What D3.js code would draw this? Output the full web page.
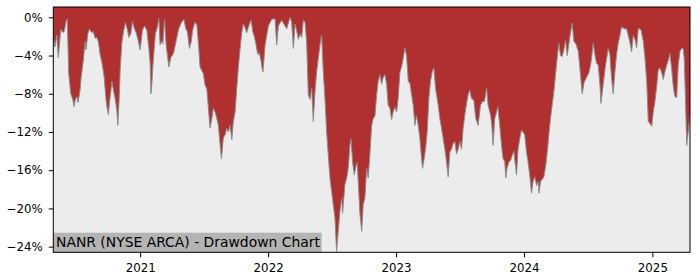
<!DOCTYPE html>
<html>
<head>
<meta charset="utf-8">
<script src="https://cdn.jsdelivr.net/npm/d3@7"></script>
<style>
  html, body { margin: 0; padding: 0; background: #ffffff; }
  svg { display: block; }
  text { font-family: "DejaVu Sans", sans-serif; }
</style>
</head>
<body>
<svg id="chart" width="700" height="280"></svg>
<script>
// Dates as decimal years, drawdown values in percent
const decimalYears = [
  2020.323,2020.336,2020.350,2020.362,2020.381,2020.397,2020.407,2020.425,2020.432,2020.443,
  2020.459,2020.467,2020.475,2020.485,2020.495,2020.506,2020.516,2020.532,2020.539,2020.557,
  2020.571,2020.578,2020.592,2020.604,2020.623,2020.635,2020.649,2020.662,2020.674,2020.688,
  2020.703,2020.719,2020.735,2020.745,2020.753,2020.760,2020.771,2020.779,2020.787,2020.797,
  2020.805,2020.818,2020.826,2020.836,2020.844,2020.857,2020.870,2020.885,2020.899,2020.912,
  2020.927,2020.940,2020.956,2020.971,2020.984,2021.000,2021.018,2021.034,2021.052,2021.068,
  2021.078,2021.084,2021.091,2021.099,2021.109,2021.119,2021.135,2021.146,2021.156,2021.166,
  2021.177,2021.190,2021.203,2021.224,2021.240,2021.260,2021.279,2021.299,2021.320,2021.341,
  2021.357,2021.369,2021.385,2021.398,2021.411,2021.429,2021.443,2021.455,2021.468,2021.494,
  2021.507,2021.521,2021.533,2021.546,2021.560,2021.572,2021.585,2021.599,2021.611,2021.625,
  2021.635,2021.650,2021.664,2021.677,2021.689,2021.703,2021.716,2021.728,2021.742,2021.755,
  2021.767,2021.781,2021.794,2021.806,2021.820,2021.833,2021.851,2021.867,2021.880,2021.892,
  2021.906,2021.919,2021.931,2021.945,2021.955,2021.960,2021.976,2022.002,2022.028,2022.054,
  2022.067,2022.080,2022.106,2022.132,2022.145,2022.171,2022.184,2022.197,2022.210,2022.223,
  2022.236,2022.249,2022.262,2022.275,2022.288,2022.301,2022.314,2022.327,2022.340,2022.353,
  2022.366,2022.379,2022.392,2022.405,2022.418,2022.431,2022.444,2022.457,2022.470,2022.483,
  2022.496,2022.509,2022.522,2022.535,2022.548,2022.561,2022.575,2022.582,2022.600,2022.614,
  2022.626,2022.639,2022.647,2022.660,2022.673,2022.686,2022.696,2022.707,2022.717,2022.731,
  2022.743,2022.756,2022.770,2022.782,2022.795,2022.809,2022.821,2022.835,2022.848,2022.860,
  2022.874,2022.887,2022.899,2022.913,2022.926,2022.938,2022.952,2022.965,2022.977,2022.991,
  2023.004,2023.016,2023.030,2023.043,2023.055,2023.069,2023.082,2023.095,2023.108,2023.121,
  2023.134,2023.147,2023.160,2023.173,2023.186,2023.199,2023.207,2023.219,2023.230,2023.243,
  2023.256,2023.269,2023.282,2023.295,2023.308,2023.316,2023.329,2023.342,2023.355,2023.368,
  2023.381,2023.394,2023.407,2023.420,2023.433,2023.446,2023.459,2023.472,2023.485,2023.498,
  2023.511,2023.524,2023.537,2023.550,2023.563,2023.576,2023.589,2023.607,2023.623,2023.641,
  2023.660,2023.675,2023.691,2023.707,2023.719,2023.738,2023.748,2023.758,2023.771,2023.785,
  2023.795,2023.810,2023.824,2023.836,2023.849,2023.857,2023.867,2023.883,2023.894,2023.906,
  2023.920,2023.933,2023.941,2023.953,2023.966,2023.980,2023.992,2024.005,2024.019,2024.031,
  2024.044,2024.058,2024.070,2024.084,2024.097,2024.109,2024.117,2024.128,2024.144,2024.154,
  2024.169,2024.183,2024.195,2024.206,2024.219,2024.232,2024.245,2024.258,2024.271,2024.284,
  2024.297,2024.310,2024.323,2024.336,2024.349,2024.362,2024.375,2024.388,2024.404,2024.422,
  2024.435,2024.453,2024.468,2024.487,2024.505,2024.521,2024.539,2024.552,2024.565,2024.578,
  2024.591,2024.599,2024.617,2024.636,2024.656,2024.669,2024.682,2024.695,2024.708,2024.721,
  2024.734,2024.747,2024.760,2024.781,2024.799,2024.812,2024.825,2024.838,2024.851,2024.864,
  2024.877,2024.890,2024.911,2024.929,2024.942,2024.956,2024.968,2024.981,2024.995,2025.007,
  2025.020,2025.034,2025.046,2025.059,2025.073,2025.085,2025.098,2025.112,2025.124,2025.137,
  2025.151,2025.163,2025.176,2025.190,2025.202,2025.215,2025.229,2025.241,2025.249,2025.260,
  2025.268,2025.280,2025.294
];
const drawdownPct = [
  -2.2,-3.1,-1.85,-4.2,-1.25,-1.6,-1.5,-0.3,-0.2,-5.9,
  -8.0,-8.3,-8.6,-9.35,-8.6,-8.3,-8.9,-7.6,-6.4,-4.5,
  -2.55,-3.4,-1.7,-1.25,-1.6,-1.5,-2.2,-2.1,-2.55,-3.9,
  -4.8,-6.2,-8.8,-9.7,-10.2,-9.0,-7.8,-6.7,-7.3,-8.0,
  -8.5,-9.7,-11.3,-8.6,-5.5,-2.7,-1.5,-0.56,-1.2,-2.1,
  -1.7,-0.46,-1.2,-1.7,-2.4,-3.4,-1.33,-0.9,-1.33,-3.25,
  -4.8,-8.0,-7.0,-5.2,-3.4,-1.7,-1.0,-0.1,-2.9,-2.5,
  -2.8,-0.2,-2.9,-5.2,-4.2,-3.8,-2.6,-1.3,-0.6,-0.2,
  -1.2,-1.5,-3.25,-2.6,-1.3,-0.5,-0.8,-2.7,-5.2,-5.9,
  -7.1,-7.5,-9.5,-11.6,-10.6,-9.5,-9.9,-10.6,-11.3,-13.4,
  -14.8,-12.6,-12.3,-11.6,-12.0,-11.3,-12.8,-10.9,-9.9,-7.4,
  -5.3,-3.25,-1.6,-0.7,-1.1,-1.6,-0.8,-0.3,-1.5,-2.0,
  -2.9,-3.9,-3.7,-4.6,-5.5,-5.7,-2.9,-0.9,-0.2,-0.15,
  -2.9,-0.9,-0.3,-0.9,-1.2,0.0,-0.5,-3.25,-0.7,-1.4,
  -2.3,-1.75,-2.1,-0.3,-0.5,-2.6,-8.1,-8.6,-7.4,-10.9,
  -7.8,-5.7,-4.3,-2.9,-1.85,-5.7,-8.5,-12.0,-14.4,-16.8,
  -18.2,-19.6,-21.0,-24.5,-22.4,-20.3,-18.9,-20.5,-17.5,-16.8,
  -15.8,-13.4,-12.7,-15.1,-16.5,-15.6,-15.2,-17.9,-20.5,-22.4,
  -19.6,-18.9,-15.8,-16.8,-14.4,-11.3,-10.6,-10.3,-8.1,-6.7,
  -6.0,-7.0,-6.3,-6.0,-7.0,-9.2,-9.5,-10.7,-9.9,-9.4,
  -9.9,-8.5,-5.7,-5.2,-4.3,-3.2,-4.0,-6.7,-6.9,-8.1,
  -9.2,-11.3,-10.3,-11.3,-12.7,-14.8,-15.8,-14.8,-13.8,-12.0,
  -8.5,-6.7,-5.7,-5.3,-7.4,-8.1,-9.2,-10.6,-11.6,-12.7,
  -13.8,-15.1,-16.7,-14.1,-13.8,-13.2,-13.0,-14.3,-13.8,-13.0,
  -13.8,-11.6,-10.2,-9.1,-8.1,-7.6,-8.5,-8.65,-10.6,-11.3,
  -9.2,-8.8,-8.8,-7.4,-9.2,-10.2,-11.3,-13.4,-10.6,-9.9,
  -9.35,-11.3,-13.4,-14.8,-15.1,-16.8,-15.8,-15.1,-15.0,-14.5,
  -14.0,-15.6,-16.5,-13.8,-12.7,-11.8,-12.0,-12.3,-14.1,-15.1,
  -16.5,-18.4,-17.2,-16.7,-17.6,-17.2,-18.4,-17.2,-16.9,-16.7,
  -15.5,-13.8,-12.0,-10.6,-9.2,-7.8,-6.0,-4.3,-2.7,-4.0,
  -4.1,-3.4,-2.4,-4.0,-2.8,-1.6,-0.6,-2.5,-2.8,-3.5,
  -5.3,-8.0,-6.8,-6.3,-5.8,-4.8,-2.7,-3.9,-4.8,-5.0,
  -7.0,-9.0,-7.0,-4.9,-3.25,-3.9,-6.4,-8.0,-5.7,-3.9,
  -2.7,-1.9,-1.0,-1.2,-1.2,-1.9,-2.6,-3.6,-1.9,-2.3,
  -3.2,-1.15,-1.3,-2.5,-4.2,-6.7,-10.9,-11.1,-11.4,-9.9,
  -8.8,-7.2,-5.5,-5.3,-5.8,-6.5,-5.7,-5.0,-4.5,-3.8,
  -5.4,-7.2,-8.3,-8.4,-5.0,-3.6,-3.2,-3.3,-4.3,-9.2,
  -13.4,-12.0,-10.2
];
const xTickYears = [2021, 2022, 2023, 2024, 2025];
const yTicks = [0, -4, -8, -12, -16, -20, -24];
const yDomain = [-24.59, 1.08];
const title = "NANR (NYSE ARCA) - Drawdown Chart";

function decToDate(t) {
  const y = Math.floor(t);
  const start = Date.UTC(y, 0, 1), end = Date.UTC(y + 1, 0, 1);
  return new Date(start + (t - y) * (end - start));
}
const data = decimalYears.map((t, i) => ({ date: decToDate(t), v: drawdownPct[i] }));

const L = 53.3, R = 690, T = 7, B = 252.3;
const svg = d3.select("#chart");

const x = d3.scaleUtc().domain(d3.extent(data, d => d.date)).range([L, R]);
const y = d3.scaleLinear().domain(yDomain).range([B, T]);

svg.append("defs").append("clipPath").attr("id", "clip")
  .append("rect").attr("x", L).attr("y", T).attr("width", R - L).attr("height", B - T);

svg.append("rect").attr("x", L).attr("y", T).attr("width", R - L).attr("height", B - T)
  .attr("fill", "#ececec");

const g = svg.append("g").attr("clip-path", "url(#clip)");
g.append("path").datum(data)
  .attr("fill", "#b03030")
  .attr("d", d3.area().x(d => x(d.date)).y0(y(yDomain[1])).y1(d => y(d.v)));
g.append("path").datum(data)
  .attr("fill", "none").attr("stroke", "#8c8c8c").attr("stroke-width", 1)
  .attr("d", d3.line().x(d => x(d.date)).y(d => y(d.v)));

// title box
const tb = svg.append("g");
tb.append("rect").attr("x", L).attr("y", 232.7).attr("width", 268.4).attr("height", B - 232.7)
  .attr("fill", "#b4b4b4");
tb.append("text").attr("x", 56).attr("y", 246.7).attr("font-size", "13.9px")
  .attr("fill", "#000").text(title);

// axes
const fmtPct = v => (v < 0 ? "\u2212" + Math.abs(v) : String(v)) + "%";
const yAxis = svg.append("g").attr("transform", `translate(${L},0)`)
  .call(d3.axisLeft(y).tickValues(yTicks).tickSize(4.5).tickPadding(6).tickFormat(fmtPct));
const xAxis = svg.append("g").attr("transform", `translate(0,${B})`)
  .call(d3.axisBottom(x).tickValues(xTickYears.map(yr => new Date(Date.UTC(yr, 0, 1))))
    .tickSize(5).tickPadding(6).tickFormat(d3.utcFormat("%Y")));
[yAxis, xAxis].forEach(a => {
  a.select(".domain").remove();
  a.selectAll("text").attr("font-family", "DejaVu Sans, sans-serif").attr("font-size", "11.8px").attr("fill", "#000");
  a.selectAll("line").attr("stroke", "#000").attr("stroke-width", 1);
});

svg.append("rect").attr("x", L).attr("y", T).attr("width", R - L).attr("height", B - T)
  .attr("fill", "none").attr("stroke", "#000").attr("stroke-width", 1);
</script>
</body>
</html>
